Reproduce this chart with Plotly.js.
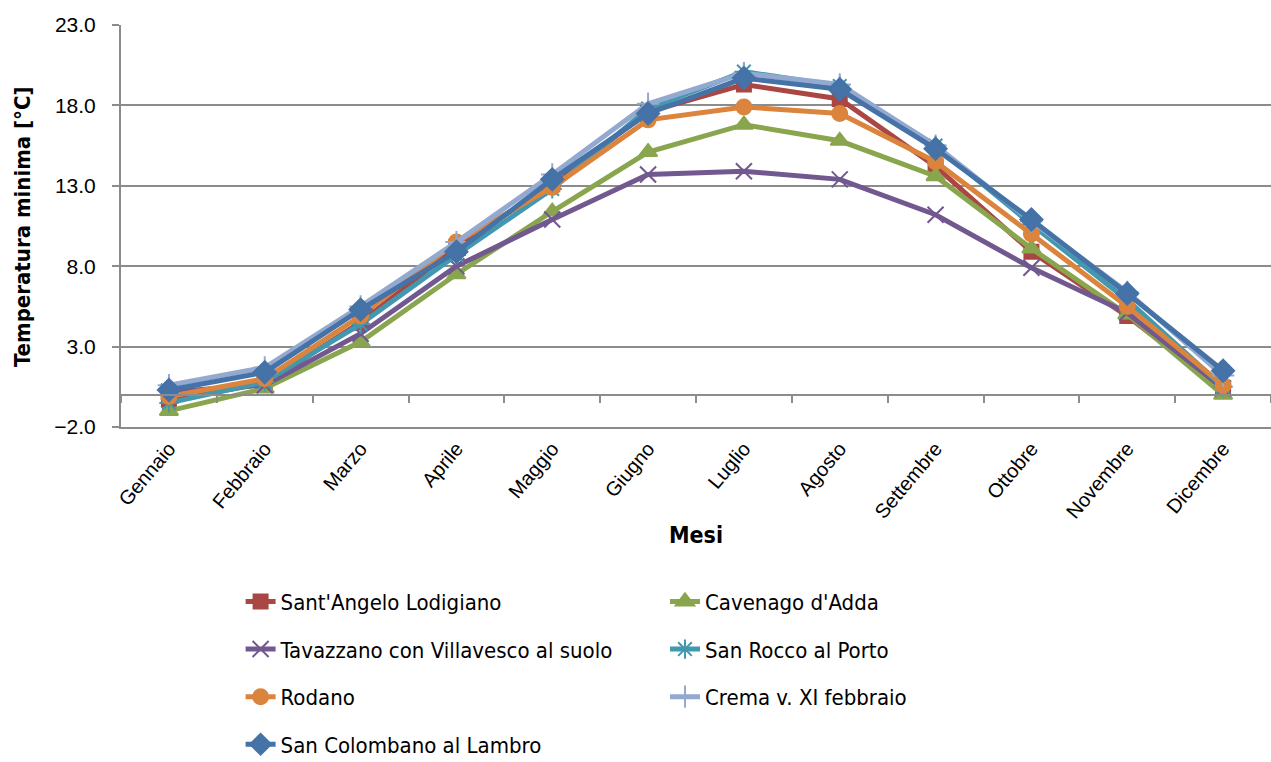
<!DOCTYPE html>
<html>
<head>
<meta charset="utf-8">
<script src="https://cdn.plot.ly/plotly-3.0.1.min.js"></script>
<style>
  html, body { margin: 0; padding: 0; background: #ffffff; }
  #chart { width: 1271px; height: 762px; }
</style>
</head>
<body>
<div id="chart"></div>
<script>
const months = ["Gennaio", "Febbraio", "Marzo", "Aprile", "Maggio", "Giugno", "Luglio", "Agosto", "Settembre", "Ottobre", "Novembre", "Dicembre"];

const santAngelo   = [-0.3, 0.7, 4.5, 9.2, 13.1, 17.6, 19.3, 18.4, 14.2, 8.9, 4.9, 0.3];
const cavenago     = [-1.0, 0.4, 3.3, 7.5, 11.4, 15.1, 16.8, 15.8, 13.6, 9.1, 5.0, 0.0];
const tavazzano    = [0.2, 0.6, 3.8, 8.0, 10.9, 13.7, 13.9, 13.4, 11.2, 7.9, 5.1, 0.4];
const sanRocco     = [-0.5, 0.8, 4.4, 8.7, 12.8, 17.8, 20.1, 19.2, 15.5, 10.6, 5.9, 0.5];
const rodano       = [-0.1, 1.0, 4.9, 9.5, 12.9, 17.1, 17.9, 17.5, 14.5, 10.0, 5.5, 0.6];
const crema        = [0.6, 1.7, 5.5, 9.5, 13.7, 18.1, 20.0, 19.3, 15.5, 10.8, 6.4, 1.2];
const sanColombano = [0.3, 1.4, 5.3, 8.9, 13.4, 17.5, 19.7, 19.0, 15.3, 10.9, 6.3, 1.5];

const seriesNames = ["Sant'Angelo Lodigiano", "Cavenago d'Adda", "Tavazzano con Villavesco al suolo", "San Rocco al Porto", "Rodano", "Crema v. XI febbraio", "San Colombano al Lambro"];

const yTicks = [-2, 3, 8, 13, 18, 23];
const yTitle = 'Temperatura minima [°C]';
const xTitle = 'Mesi';

const SANS = "'Liberation Sans', Arial, sans-serif";
const COND = "'DejaVu Sans Condensed', 'Liberation Sans Narrow', 'Liberation Sans', sans-serif";

function mk(name, y, color, symbol, size, legendId) {
  return {
    type: 'scatter', mode: 'lines+markers', name: name, x: months, y: y,
    line: { color: color, width: 5 },
    marker: { symbol: symbol, size: size, color: color, line: { color: color, width: 2 } },
    legend: legendId, legendgroup: name
  };
}

const traces = [
  mk(seriesNames[0], santAngelo, '#AA4643', 'square', 14, 'legend'),
  mk(seriesNames[1], cavenago, '#89A54E', 'triangle-up', 16, 'legend2'),
  mk(seriesNames[2], tavazzano, '#71588F', 'x-thin-open', 16, 'legend'),
  mk(seriesNames[3], sanRocco, '#4198AF', 'asterisk-open', 16, 'legend2'),
  mk(seriesNames[4], rodano, '#DB843D', 'circle', 15, 'legend'),
  mk(seriesNames[5], crema, '#93A9CF', 'cross-thin-open', 16, 'legend2'),
  mk(seriesNames[6], sanColombano, '#4572A7', 'diamond', 17, 'legend'),
  // invisible helper so the category axis crossing at 0 is drawn
  { type: 'scatter', mode: 'lines', x: months, y: months.map(() => null), xaxis: 'x2',
    showlegend: false, hoverinfo: 'skip', line: { width: 0 } }
];

const yMin = yTicks[0], yMax = yTicks[yTicks.length - 1];

const layout = {
  width: 1271, height: 762,
  margin: { l: 121, r: 0, t: 25, b: 335, autoexpand: false },
  paper_bgcolor: '#ffffff', plot_bgcolor: '#ffffff',
  showlegend: true,
  xaxis: {
    type: 'category', range: [-0.5, months.length - 0.5],
    showgrid: false, zeroline: false,
    showline: true, linecolor: '#8c8c8c', linewidth: 2,
    ticks: '', tickangle: -50,
    tickfont: { family: SANS, size: 20, color: '#000000' },
    title: { text: xTitle, font: { family: COND, size: 23, color: '#000000', weight: 'bold' }, standoff: 5 }
  },
  xaxis2: {
    type: 'category', overlaying: 'x', anchor: 'free', position: (0 - yMin) / (yMax - yMin),
    range: [-0.5, months.length - 0.5], tickson: 'boundaries',
    ticks: 'outside', ticklen: 7, tickwidth: 2, tickcolor: '#8c8c8c',
    showticklabels: false, showgrid: false, zeroline: false,
    showline: true, linecolor: '#8c8c8c', linewidth: 2
  },
  yaxis: {
    range: [yMin, yMax], tickvals: yTicks, tickformat: '.1f',
    showgrid: true, gridcolor: '#8c8c8c', gridwidth: 2,
    zeroline: true, zerolinecolor: '#8c8c8c', zerolinewidth: 2,
    showline: true, linecolor: '#8c8c8c', linewidth: 2,
    ticks: 'outside', ticklen: 7, tickwidth: 2, tickcolor: '#8c8c8c',
    ticklabelstandoff: 12,
    tickfont: { family: SANS, size: 21, color: '#000000' }
  },
  annotations: [{
    text: yTitle, xref: 'paper', yref: 'paper', x: -0.0861, y: 0.5,
    xanchor: 'center', yanchor: 'middle', textangle: -90, showarrow: false,
    font: { family: COND, size: 22, color: '#000000', weight: 'bold' }
  }],
  legend: {
    xref: 'container', yref: 'container',
    x: 0.1893, xanchor: 'left', y: 0.238, yanchor: 'top',
    orientation: 'v', tracegroupgap: 16, traceorder: 'grouped',
    font: { family: COND, size: 22, color: '#000000' }, bgcolor: 'rgba(0,0,0,0)'
  },
  legend2: {
    xref: 'container', yref: 'container',
    x: 0.5232, xanchor: 'left', y: 0.238, yanchor: 'top',
    orientation: 'v', tracegroupgap: 16, traceorder: 'grouped',
    font: { family: COND, size: 22, color: '#000000' }, bgcolor: 'rgba(0,0,0,0)'
  }
};

Plotly.newPlot('chart', traces, layout, { displayModeBar: false, staticPlot: true });
</script>
</body>
</html>
